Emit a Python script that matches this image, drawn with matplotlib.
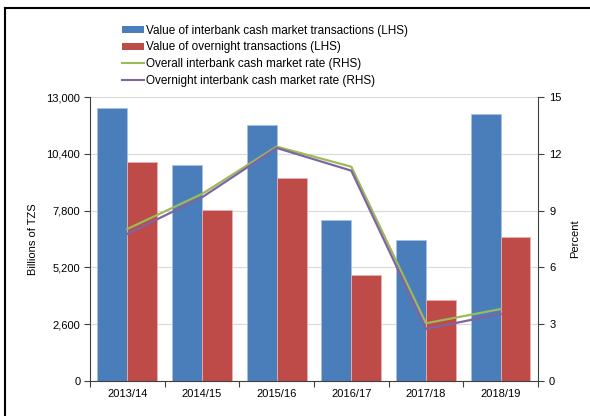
import numpy as np
import matplotlib
matplotlib.use("Agg")
import matplotlib.pyplot as plt
from matplotlib.patches import Patch
from matplotlib.lines import Line2D

plt.rcParams['font.family'] = ['Liberation Sans', 'DejaVu Sans']
plt.rcParams['font.size'] = 8

years = ['2013/14', '2014/15', '2015/16', '2016/17', '2017/18', '2018/19']
interbank_value = [12500, 9890, 11720, 7370, 6450, 12220]
overnight_value = [10020, 7830, 9290, 4850, 3710, 6590]
overall_rate = [8.03, 9.88, 12.38, 11.32, 3.05, 3.80]
overnight_rate = [7.77, 9.70, 12.31, 11.11, 2.75, 3.54]

blue = '#4A7EBB'
red = '#BE4B48'
green = '#9BBB59'
purple = '#8064A2'

fig = plt.figure(figsize=(5.9, 4.16), dpi=100)
ax = fig.add_axes([0.1525, 0.0841, 0.7593, 0.6827])

x = np.arange(len(years))
w = 0.4
ax.bar(x - w / 2, interbank_value, w, color=blue, edgecolor='#A9C1E0', linewidth=0.6)
ax.bar(x + w / 2, overnight_value, w, color=red, edgecolor='#E8B1AF', linewidth=0.6)

ax.set_xlim(-0.5, len(years) - 0.5)
ax.set_ylim(0, 13000)
ax.set_yticks(np.arange(0, 13001, 2600))
ax.set_yticklabels(['{:,}'.format(v) for v in range(0, 13001, 2600)])
ax.yaxis.grid(True, color='#D9D9D9', linewidth=0.8)
ax.set_axisbelow(True)
ax.set_xticks(np.arange(-0.5, len(years), 1))
ax.set_xticklabels([])
ax.set_xticks(x, minor=True)
ax.set_xticklabels(years, minor=True)
ax.tick_params(axis='x', which='minor', length=0, pad=6)
ax.tick_params(axis='x', which='major', direction='out', length=4, color='#404040')
ax.tick_params(axis='y', direction='out', length=4, color='#404040', pad=3)
ax.set_ylabel('Billions of TZS', labelpad=6)
for s in ['top', 'right']:
    ax.spines[s].set_visible(False)
ax.spines['left'].set_color('#404040')
ax.spines['bottom'].set_color('#404040')

ax2 = ax.twinx()
ax2.plot(x, overall_rate, color=green, linewidth=1.6)
ax2.plot(x, overnight_rate, color=purple, linewidth=1.6)
ax2.set_ylim(0, 15)
ax2.set_yticks(np.arange(0, 16, 3))
ax2.tick_params(axis='y', direction='out', length=4, color='#404040', pad=4)
ax2.set_ylabel('Percent', labelpad=6)
for s in ['top', 'left', 'bottom']:
    ax2.spines[s].set_visible(False)
ax2.spines['right'].set_color('#404040')

handles = [
    Patch(facecolor=blue, edgecolor='none'),
    Patch(facecolor=red, edgecolor='none'),
    Line2D([], [], color=green, linewidth=1.5),
    Line2D([], [], color=purple, linewidth=1.5),
]
labels = [
    'Value of interbank cash market transactions (LHS)',
    'Value of overnight transactions (LHS)',
    'Overall interbank cash market rate (RHS)',
    'Overnight interbank cash market rate (RHS)',
]
fig.legend(handles, labels, loc='upper left', bbox_to_anchor=(0.196, 0.955),
           frameon=False, handlelength=1.9, handleheight=0.55, handletextpad=0.15,
           labelspacing=0.4, borderpad=0, fontsize=8.5)

# outer frame (top and left edges of the original box)
fig.add_artist(Line2D([5 / 590, 1], [1 - 8 / 416, 1 - 8 / 416], color='black', linewidth=1.5))
fig.add_artist(Line2D([5 / 590, 5 / 590], [0, 1 - 8 / 416], color='black', linewidth=1.5))

fig.savefig('out.png', dpi=100)
